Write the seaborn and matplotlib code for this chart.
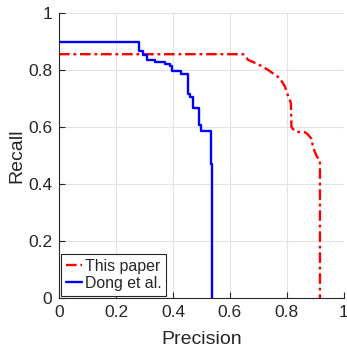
import numpy as np
import pandas as pd
import seaborn as sns
import matplotlib.pyplot as plt

# precision / recall
ours_precision = [0.0, 0.647, 0.664, 0.680, 0.699, 0.720, 0.734, 0.755, 0.775, 0.793,
                  0.805, 0.814, 0.816, 0.822, 0.834, 0.865, 0.872, 0.887, 0.891, 0.898,
                  0.905, 0.916, 0.916]
ours_recall = [0.855, 0.855, 0.835, 0.828, 0.820, 0.808, 0.800, 0.785, 0.771, 0.742,
               0.706, 0.684, 0.600, 0.592, 0.583, 0.581, 0.575, 0.558, 0.530, 0.513,
               0.496, 0.484, 0.0]

dong_precision = [0.0, 0.282, 0.296, 0.308, 0.337, 0.372, 0.389, 0.395, 0.428, 0.452,
                  0.460, 0.471, 0.490, 0.500, 0.532, 0.536]
dong_recall = [0.898, 0.867, 0.853, 0.834, 0.826, 0.822, 0.812, 0.796, 0.786, 0.715,
               0.706, 0.668, 0.607, 0.584, 0.470, 0.0]

ticks = [0, 0.2, 0.4, 0.6, 0.8, 1]
tick_labels = ['0', '0.2', '0.4', '0.6', '0.8', '1']

sns.set_style('whitegrid')
plt.rcParams['font.family'] = ['Liberation Sans', 'DejaVu Sans']

fig = plt.figure(figsize=(3.47, 3.47), dpi=100)
ax = fig.add_axes([0.170, 0.141, 0.821, 0.822])

ours = pd.DataFrame({'p': ours_precision, 'r': ours_recall})
dong = pd.DataFrame({'p': dong_precision, 'r': dong_recall})

sns.lineplot(data=ours, x='p', y='r', sort=False, estimator=None, ax=ax,
             color='#ff0000', linestyle=(0, (4.5, 1.6, 1.2, 1.6)), linewidth=1.7, label='This paper')
sns.lineplot(data=dong, x='p', y='r', sort=False, estimator=None, ax=ax,
             color='#0000ff', linewidth=1.7, drawstyle='steps-post', label='Dong et al.')

ax.set_xlim(0, 1)
ax.set_ylim(0, 1)
ax.set_xticks(ticks)
ax.set_xticklabels(tick_labels)
ax.set_yticks(ticks)
ax.set_yticklabels(tick_labels)

# matlab-ish look
ax.grid(True, color='#e3e3e3', linewidth=0.8)
for side in ['top', 'right']:
    ax.spines[side].set_visible(False)
for side in ['left', 'bottom']:
    ax.spines[side].set_color('#262626')
    ax.spines[side].set_linewidth(0.8)
ax.tick_params(direction='in', length=4, width=0.8, color='#262626',
               labelsize=12.5, labelcolor='#262626', pad=5, left=True, bottom=True)

ax.set_xlabel('Precision', fontsize=14, color='#262626', labelpad=8)
ax.set_ylabel('Recall', fontsize=14, color='#262626', labelpad=2)

leg = ax.legend(loc='lower left', fontsize=11.4, frameon=True, fancybox=False,
                handlelength=1.0, handletextpad=0.2, borderpad=0.3, labelspacing=0.15,
                borderaxespad=0.15)
leg.get_frame().set_edgecolor('#262626')
leg.get_frame().set_linewidth(0.8)
leg.get_frame().set_alpha(1)

plt.savefig('out.png', dpi=100)
